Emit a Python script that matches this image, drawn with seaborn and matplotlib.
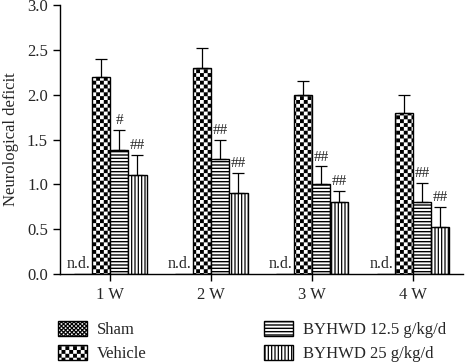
import numpy as np
import pandas as pd
import matplotlib
matplotlib.use("Agg")
import matplotlib.pyplot as plt
import matplotlib.patches as mpatches
import matplotlib.hatch as mhatch
from matplotlib.path import Path
import seaborn as sns

# ---------------- data ----------------
weeks = ["1 W", "2 W", "3 W", "4 W"]
groups = ["Sham", "Vehicle", "BYHWD 12.5 g/kg/d", "BYHWD 25 g/kg/d"]
sham = [0.0, 0.0, 0.0, 0.0]
vehicle = [2.20, 2.30, 2.00, 1.80]
byhwd_125 = [1.38, 1.28, 1.00, 0.80]
byhwd_25 = [1.10, 0.90, 0.80, 0.52]
err_sham = [0.0, 0.0, 0.0, 0.0]
err_vehicle = [0.20, 0.22, 0.15, 0.20]
err_125 = [0.23, 0.22, 0.20, 0.22]
err_25 = [0.23, 0.23, 0.13, 0.23]
sig_125 = ["#", "##", "##", "##"]
sig_25 = ["##", "##", "##", "##"]
nd_label = "n.d."

# ---------------- custom checkerboard hatch ----------------
class CheckerHatch(mhatch.HatchPatternBase):
    shrink = 0.0

    def __init__(self, hatch, density):
        self.n = 2 * hatch.count(self.char)
        self.num_vertices = 5 * (self.n * self.n // 2)

    def set_vertices_and_codes(self, vertices, codes):
        n = self.n
        s = self.shrink / n
        k = 0
        for i in range(n):
            for j in range(n):
                if (i + j) % 2 == 0:
                    x0, y0 = i / n + s, j / n + s
                    x1, y1 = (i + 1) / n - s, (j + 1) / n - s
                    vertices[k:k + 5] = [(x0, y0), (x1, y0), (x1, y1), (x0, y1), (x0, y0)]
                    codes[k:k + 5] = [Path.MOVETO, Path.LINETO, Path.LINETO,
                                      Path.LINETO, Path.CLOSEPOLY]
                    k += 5


class CoarseChecker(CheckerHatch):
    char = "o"
    shrink = 0.0


class FineChecker(CheckerHatch):
    char = "O"
    shrink = -0.08


mhatch._hatch_types = [t for t in mhatch._hatch_types
                       if t.__name__ not in ("SmallCircles", "LargeCircles")]
mhatch._hatch_types += [CoarseChecker, FineChecker]

hatches = ["O" * 24, "o" * 13, "-----", "|||||"]
hatch_lw = [0.05, 0.05, 1.0, 0.9]

# ---------------- style ----------------
sns.set_theme(style="ticks")
plt.rcParams["font.family"] = ["Liberation Serif", "DejaVu Serif"]
plt.rcParams["hatch.color"] = "black"

df = pd.DataFrame({
    "week": weeks * 4,
    "group": np.repeat(groups, len(weeks)),
    "value": sham + vehicle + byhwd_125 + byhwd_25,
})
errs = [err_sham, err_vehicle, err_125, err_25]
vals = [sham, vehicle, byhwd_125, byhwd_25]

fig = plt.figure(figsize=(4.67, 3.62), dpi=100)
ax = fig.add_axes([0.128, 0.243, 0.8645, 0.743])

sns.barplot(data=df, x="week", y="value", hue="group", order=weeks,
            hue_order=groups, width=0.72, gap=0, errorbar=None,
            palette=["white"] * 4, edgecolor="black", linewidth=1.0,
            legend=False, saturation=1, ax=ax)

bar_containers = list(ax.containers)
for gi, cont in enumerate(bar_containers):
    xs = []
    for p in cont.patches:
        p.set_hatch(hatches[gi])
        if hasattr(p, "set_hatch_linewidth"):
            p.set_hatch_linewidth(hatch_lw[gi])
        p.set_facecolor("white")
        p.set_edgecolor("black")
        xs.append(p.get_x() + p.get_width() / 2)
    xs = np.array(xs)
    if gi == 0:
        w = cont.patches[0].get_width()
        for x in xs:
            ax.text(x + w / 2 - 0.015, 0.02, nd_label, ha="right", va="bottom",
                    fontsize=11.5)
        continue
    v = np.array(vals[gi])
    e = np.array(errs[gi])
    ax.errorbar(xs, v, yerr=[np.zeros_like(e), e], fmt="none", ecolor="black",
                elinewidth=0.9, capsize=4.3, capthick=0.9, zorder=3)
    if gi == 2:
        for x, y, s in zip(xs, v + e, sig_125):
            ax.text(x, y + 0.03, s, ha="center", va="bottom", fontsize=11)
    if gi == 3:
        for x, y, s in zip(xs, v + e, sig_25):
            ax.text(x, y + 0.03, s, ha="center", va="bottom", fontsize=11)

ax.set_xlim(-0.5, 3.5)
ax.set_ylim(0, 3.0)
ax.set_yticks(np.arange(0, 3.01, 0.5))
ax.set_yticklabels([f"{t:.1f}" for t in np.arange(0, 3.01, 0.5)])
ax.set_xlabel("")
ax.set_ylabel("Neurological deficit", fontsize=12, labelpad=6)
ax.tick_params(axis="both", labelsize=12, width=1.0, color="black")
ax.tick_params(axis="y", length=5, pad=3.5)
ax.tick_params(axis="x", length=5, pad=4.5)
for s in ["top", "right"]:
    ax.spines[s].set_visible(False)
for s in ["left", "bottom"]:
    ax.spines[s].set_linewidth(1.0)
    ax.spines[s].set_color("black")

handles = []
for gi, g in enumerate(groups):
    h = mpatches.Patch(facecolor="white", edgecolor="black", hatch=hatches[gi],
                       linewidth=1.0, label=g)
    handles.append(h)

leg = fig.legend(handles=handles, loc="upper left", bbox_to_anchor=(0.124, 0.113),
                 ncol=2, frameon=False, fontsize=12, handlelength=1.75,
                 handleheight=1.0, columnspacing=7.05, labelspacing=0.38,
                 handletextpad=0.6, borderpad=0, borderaxespad=0)
for gi, p in enumerate(leg.get_patches()):
    if hasattr(p, "set_hatch_linewidth"):
        p.set_hatch_linewidth(hatch_lw[gi])

fig.savefig("out.png", dpi=100)
